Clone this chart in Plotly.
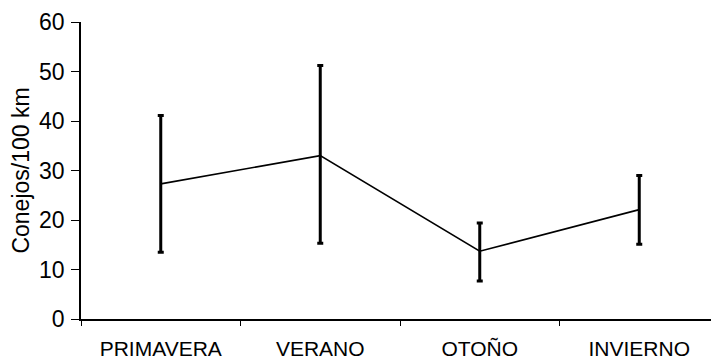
import plotly.graph_objects as go

estaciones = ["PRIMAVERA", "VERANO", "OTOÑO", "INVIERNO"]
conejos = [27.3, 33.0, 13.7, 22.1]
limite_sup = [41.1, 51.2, 19.4, 29.0]
limite_inf = [13.5, 15.3, 7.7, 15.1]

err_plus = [s - v for s, v in zip(limite_sup, conejos)]
err_minus = [v - i for v, i in zip(conejos, limite_inf)]

fig = go.Figure()
fig.add_trace(go.Scatter(
    x=estaciones, y=conejos, mode="lines",
    line=dict(color="black", width=1.6),
    error_y=dict(type="data", symmetric=False, array=err_plus, arrayminus=err_minus,
                 color="black", thickness=3, width=3),
    showlegend=False,
))

# page body has an 8px margin, so the figure is sized to fit the window
fig.update_layout(
    width=711, height=355,
    margin=dict(l=73, r=0, t=14, b=44),
    paper_bgcolor="white", plot_bgcolor="white",
    font=dict(family="Liberation Sans, Arial, sans-serif", color="black", size=21),
)
fig.update_xaxes(
    type="category", range=[-0.5, 3.5], automargin=False,
    showline=True, linecolor="black", linewidth=1.5,
    showgrid=False, zeroline=False,
    ticks="outside", tickson="boundaries", ticklen=5, tickcolor="black",
    tickfont=dict(size=21), ticklabelstandoff=10, ticklabeloverflow="allow",
)
fig.update_yaxes(
    range=[0, 60], dtick=10, automargin=False,
    showline=True, linecolor="black", linewidth=1.5,
    showgrid=False, zeroline=False,
    ticks="outside", ticklen=8, tickcolor="black",
    tickfont=dict(size=23), ticklabelstandoff=2, ticklabeloverflow="allow",
    title=dict(text="Conejos/100 km", font=dict(size=23), standoff=8),
)

fig.write_html("out.html")
